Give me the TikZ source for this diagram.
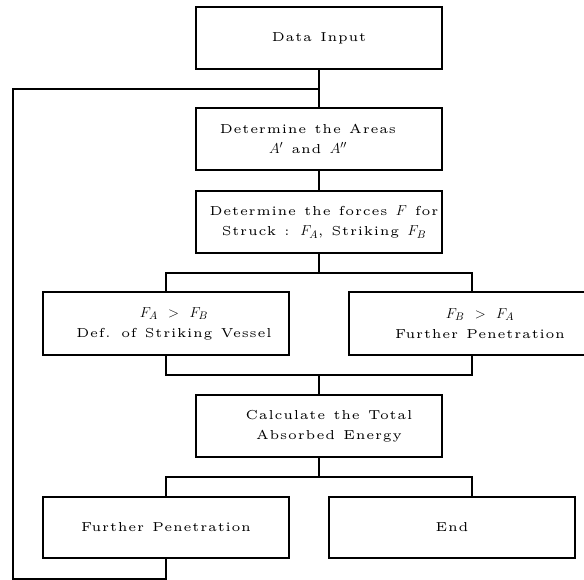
\documentclass[tikz,border=0pt]{standalone}
\usepackage{amsmath, amssymb}
\usepackage{fontspec}
\setmainfont{lmroman5-regular.otf}[LetterSpace=6, WordSpace=1.2, ItalicFont=lmroman7-italic.otf, BoldFont=lmroman5-bold.otf]
\DeclareMathSizes{13}{14}{11}{8}
\usepackage{tikz}

\tikzset{
  blk/.style={draw, line width=2pt, minimum width=246pt, minimum height=62pt, inner sep=0pt},
  txt/.style={align=center, inner sep=0pt, font=\fontsize{13}{20}\selectfont},
  wire/.style={line width=2pt}
}

\begin{document}
\begin{tikzpicture}[x=1pt, y=-1pt]
  % one unit = one pixel of the reference, y grows downwards
  \useasboundingbox (0,0) rectangle (584,579);
  \node[blk, label={[txt]center:Data Input}] (inp) at (319,38) {};
  \node[blk, label={[txt, xshift=-11pt]center:{Determine the Areas\\ $A'$ and $A''$}}] (area) at (319,139) {};
  \node[blk, label={[txt, xshift=5pt]center:{Determine the forces $F$ for\\ Struck : $F_A$, Striking $F_B$}}] (force) at (319,222) {};
  \node[blk, minimum height=63pt, label={[txt, xshift=8pt]center:{$F_A\;\,>\;\,F_B$\\ Def. of Striking Vessel}}] (strk) at (166,323.5) {};
  \node[blk, minimum height=63pt, label={[txt, xshift=8pt]center:{$F_B\;\,>\;\,F_A$\\ Further Penetration}}] (pen) at (472,323.5) {};
  \node[blk, label={[txt, xshift=10pt]center:{Calculate the Total\\ Absorbed Energy}}] (total) at (319,426) {};
  \node[blk, minimum height=61pt, label={[txt]center:Further Penetration}] (furth) at (166,527.5) {};
  \node[blk, minimum height=61pt, label={[txt]center:End}] (end) at (452,527.5) {};
  % tree of connectors
  \coordinate (back) at (319,89);
  \coordinate (split1) at (319,273);
  \coordinate (join1) at (319,375);
  \coordinate (split2) at (319,477);
  \draw[wire] (inp.south) -- (area.north);
  \draw[wire] (area.south) -- (force.north);
  \draw[wire] (force.south) -- (split1);
  \draw[wire] (strk.north) |- (split1) -| (pen.north);
  \draw[wire] (strk.south) |- (join1) -| (pen.south);
  \draw[wire] (join1) -- (total.north);
  \draw[wire] (total.south) -- (split2);
  \draw[wire] (furth.north) |- (split2) -| (pen |- end.north);
  % loop back to the top
  \draw[wire] (furth.south) -- ++(0,20) -| (13,89) -- (back);
\end{tikzpicture}
\end{document}
